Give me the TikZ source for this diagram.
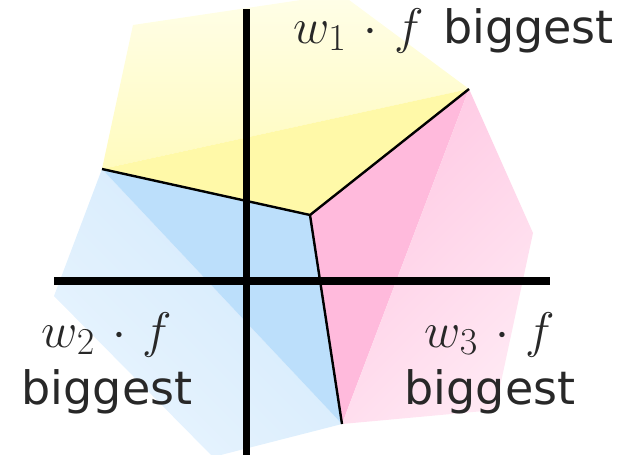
\RequirePackage{fix-cm}
\documentclass[tikz,border=0pt]{standalone}
\usepackage[no-math]{fontspec}
\setmainfont{DejaVu Sans}

\definecolor{yellowfar}{RGB}{255,254,232}
\definecolor{yellownear}{RGB}{255,251,190}
\definecolor{yellowcore}{RGB}{255,249,168}
\definecolor{bluefar}{RGB}{232,244,254}
\definecolor{bluenear}{RGB}{210,233,252}
\definecolor{bluecore}{RGB}{188,223,251}
\definecolor{pinkcore}{RGB}{255,186,220}
\definecolor{pinknear}{RGB}{255,200,227}
\definecolor{pinkfar}{RGB}{255,232,243}
\definecolor{inktext}{RGB}{40,40,40}

\DeclareMathSizes{25}{25}{19}{14}
\newcommand{\wdotf}[1]{{\fontsize{25}{27.5}\selectfont$\medmuskip=6mu w_{#1}\cdot f$}}

\tikzset{
  axis/.style={line width=3.7pt},
  border/.style={line width=1.2pt},
  label/.style={font=\fontsize{23}{28.5}\selectfont, text=inktext, inner sep=0pt, align=center},
}

\begin{document}
\begin{tikzpicture}[x=0.5pt,y=-0.5pt]
  \clip (0,0) rectangle (632,455);

  % corners of the three regions
  \coordinate (meet) at (310,215);
  \coordinate (west) at (102,169);
  \coordinate (east) at (469,89);
  \coordinate (south) at (342,424);
  \coordinate (topleft) at (133,25);
  \coordinate (top) at (341,-6);
  \coordinate (right) at (533,233);
  \coordinate (lowright) at (495,410);
  \coordinate (left) at (54,296);
  \coordinate (low) at (213,457);

  % w_1 region
  \shade[top color=yellowfar, bottom color=yellownear] (west) -- (topleft) -- (top) -- (east) -- cycle;
  \fill[yellowcore] (west) -- (east) -- (meet) -- cycle;

  % w_2 region
  \shade[top color=bluenear, bottom color=bluefar, shading angle=-45] (west) -- (left) -- (low) -- (south) -- cycle;
  \fill[bluecore] (west) -- (south) -- (meet) -- cycle;

  % w_3 region
  \fill[pinkcore] (meet) -- (east) -- (south) -- cycle;
  \shade[top color=pinknear, bottom color=pinkfar, shading angle=45] (east) -- (right) -- (lowright) -- (south) -- cycle;

  % borders
  \draw[border] (west) -- (meet) -- (east);
  \draw[border] (meet) -- (south);

  % axes
  \coordinate (xa) at (54,281);
  \coordinate (xb) at (550,281);
  \coordinate (ya) at (246.5,9);
  \coordinate (yb) at (246.5,460);
  \draw[axis] (xa) -- (xb);
  \draw[axis] (ya) -- (yb);

  % labels
  \node[label, anchor=base west] (lab1) at (293,43) {\wdotf{1}\hspace{2.5pt} biggest};
  \node[label, anchor=north] (lab2) at (107,312) {\wdotf{2}\\biggest};
  \node[label, anchor=north] (lab3) at (490,312) {\wdotf{3}\\biggest};
\end{tikzpicture}
\end{document}
